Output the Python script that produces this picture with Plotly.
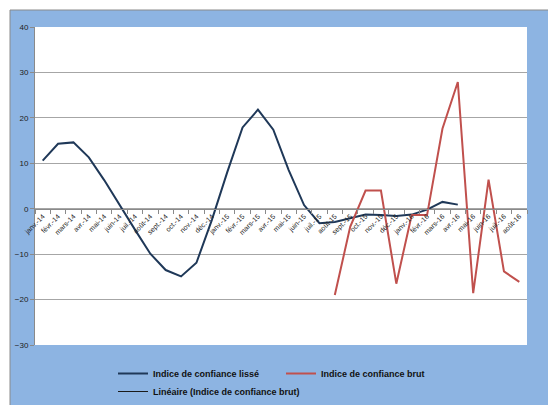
import plotly.graph_objects as go

categories = ["janv.-14", "févr.-14", "mars-14", "avr.-14", "mai-14", "juin-14", "juil.-14", "août-14",
              "sept.-14", "oct.-14", "nov.-14", "déc.-14", "janv.-15", "févr.-15", "mars-15", "avr.-15",
              "mai-15", "juin-15", "juil.-15", "août-15", "sept.-15", "oct.-15", "nov.-15", "déc.-15",
              "janv.-16", "févr.-16", "mars-16", "avr.-16", "mai-16", "juin-16", "juil.-16", "août-16"]

lisse = [10.6, 14.3, 14.6, 11.3, 6.3, 0.7, -4.6, -9.9, -13.5, -14.9, -11.9, -2.5, 8.0, 17.9, 21.8, 17.4,
         8.5, 0.8, -3.2, -2.9, -2.1, -1.3, -1.4, -1.6, -1.3, -0.2, 1.5, 0.9, None, None, None, None]

brut = [None] * 19 + [-19.0, -4.0, 4.0, 4.0, -16.5, -1.4, -1.4, 17.6, 27.9, -18.6, 6.4, -13.8, -16.1]

y_ticks = [-30, -20, -10, 0, 10, 20, 30, 40]

W, H = 548, 405
ML, MR, MT, MB = 35, 21, 27, 60
PW, PH = W - ML - MR, H - MT - MB

def fx(px):
    return (px - ML) / PW

def fy(py):
    return (H - MB - py) / PH

fig = go.Figure()
fig.add_trace(go.Scatter(x=categories, y=lisse, mode="lines", name="Indice de confiance lissé",
                         line=dict(color="#1F3858", width=2), connectgaps=False, legend="legend"))
fig.add_trace(go.Scatter(x=categories, y=brut, mode="lines", name="Indice de confiance brut",
                         line=dict(color="#C0504D", width=2), connectgaps=False, legend="legend"))
fig.add_trace(go.Scatter(x=[None], y=[None], mode="lines", name="Linéaire (Indice de confiance brut)",
                         line=dict(color="#1a1a1a", width=1), legend="legend2"))

shapes = [
    dict(type="rect", xref="paper", yref="paper", x0=fx(10), x1=fx(600), y0=fy(450), y1=fy(10),
         fillcolor="#8DB4E2", line=dict(color="#8A8A8A", width=1), layer="below"),
    dict(type="rect", xref="paper", yref="paper", x0=0, x1=1, y0=0, y1=1,
         fillcolor="white", line=dict(width=0), layer="below"),
]

legend_font = dict(size=9, weight="bold", color="#111111")

fig.update_layout(
    width=W, height=H,
    margin=dict(l=ML, r=MR, t=MT, b=MB, autoexpand=False),
    paper_bgcolor="white", plot_bgcolor="white",
    font=dict(family="Liberation Sans, Arial, sans-serif", color="#222222"),
    shapes=shapes,
    showlegend=True,
    legend=dict(orientation="h", x=fx(113), y=fy(359), xanchor="left", yanchor="top",
                bgcolor="rgba(0,0,0,0)", font=legend_font,
                entrywidth=123, entrywidthmode="pixels", tracegroupgap=0),
    legend2=dict(orientation="h", x=fx(113), y=fy(377), xanchor="left", yanchor="top",
                 bgcolor="rgba(0,0,0,0)", font=legend_font),
    xaxis=dict(type="category", categoryorder="array", categoryarray=categories,
               range=[-0.5, len(categories) - 0.5], automargin=False,
               anchor="free", position=30 / 70,
               showline=True, linecolor="#8A8A8A", linewidth=1,
               ticks="outside", tickson="boundaries", ticklen=4, tickcolor="#8A8A8A",
               tickangle=-45, tickfont=dict(size=7, color="#222222"),
               showgrid=False, zeroline=False),
    yaxis=dict(range=[-30, 40], tickvals=y_ticks, showgrid=True, gridcolor="#A6A6A6", gridwidth=1,
               showline=True, linecolor="#8A8A8A", linewidth=1, automargin=False,
               ticks="outside", ticklen=4, tickcolor="#8A8A8A",
               tickfont=dict(size=8, color="#222222"), zeroline=False),
)

fig.write_html("out.html", config={"displayModeBar": False},
               post_script="document.body.style.margin='0';")
